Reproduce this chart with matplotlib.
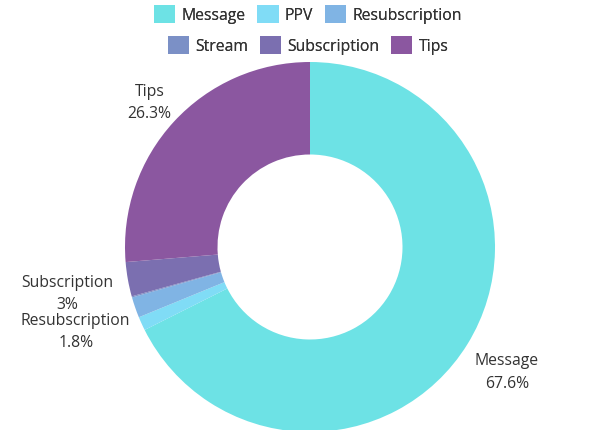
import numpy as np
import matplotlib
matplotlib.use("Agg")
import matplotlib.pyplot as plt
from matplotlib.patches import Patch

plt.rcParams['font.family'] = ['Open Sans', 'DejaVu Sans']

# data
categories = ["Message", "PPV", "Resubscription", "Stream", "Subscription", "Tips"]
shares = [67.6, 1.2, 1.8, 0.1, 3.0, 26.3]
colors = ["#6de2e5", "#80dcf6", "#80b4e4", "#7b90c6", "#7b6fb0", "#8b57a0"]
shown = ["Message", "Resubscription", "Subscription", "Tips"]
pct_labels = ["67.6%", "", "1.8%", "", "3%", "26.3%"]

fig = plt.figure(figsize=(5.98, 4.31), dpi=100)
W, H = 598, 431
cx, cy, R = 310, 248, 185
ax = fig.add_axes([(cx - R) / W, (H - cy - R) / H, 2 * R / W, 2 * R / H])

wedges, _ = ax.pie(shares, colors=colors, startangle=90, counterclock=False,
                   radius=1, wedgeprops=dict(width=0.5, linewidth=0))
ax.set_xlim(-1, 1)
ax.set_ylim(-1, 1)
ax.set_aspect('equal')
ax.axis('off')

# outside labels
dist = {"Message": 1.25, "Resubscription": 1.34, "Subscription": 1.33, "Tips": 1.18}
for w, name, pct in zip(wedges, categories, pct_labels):
    if name not in shown:
        continue
    mid = np.deg2rad((w.theta1 + w.theta2) / 2)
    r = dist[name]
    ax.text(r * np.cos(mid), r * np.sin(mid) - 0.015, name + "\n" + pct, ha='center', va='center',
            fontsize=11.3, color='#333333', linespacing=1.55, clip_on=False)

# legend in two centred rows
handles = [Patch(facecolor=c, edgecolor='none') for c in colors]
for row, yy in ((0, 1 - 15 / H), (1, 1 - 46 / H)):
    lg = fig.legend(handles[row * 3:row * 3 + 3], categories[row * 3:row * 3 + 3],
                    ncol=3, loc='center', bbox_to_anchor=(308 / W, yy), frameon=False,
                    fontsize=11.3, handlelength=1.35, handleheight=1.35, handletextpad=0.4,
                    columnspacing=0.75, labelcolor='#333333')
    fig.add_artist(lg)

fig.savefig("out.png", dpi=100)
